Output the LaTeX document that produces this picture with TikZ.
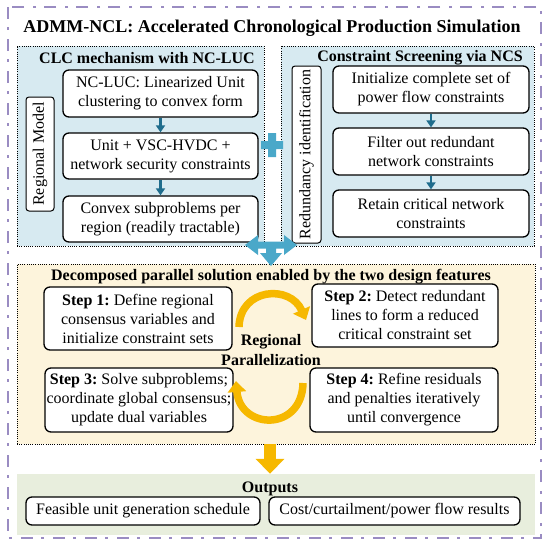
\documentclass[tikz,border=0pt]{standalone}
\usepackage{fontspec}
\setmainfont{Liberation Serif}
\usetikzlibrary{arrows.meta}
\definecolor{lav}{RGB}{154,140,194}
\definecolor{bluefill}{RGB}{215,234,241}
\definecolor{creamfill}{RGB}{253,244,220}
\definecolor{greenfill}{RGB}{232,238,221}
\definecolor{tealarrow}{RGB}{31,109,141}
\definecolor{lightbluearrow}{RGB}{74,168,201}
\definecolor{yellowarrow}{RGB}{246,184,0}
\frenchspacing
\begin{document}
\begin{tikzpicture}[x=1pt,y=-1pt,
  panel/.style={draw=black, line width=0.9pt, dash pattern=on 0.9pt off 1.3pt, inner sep=0pt},
  box/.style={draw=black, line width=1.3pt, rounded corners=6pt, fill=white, align=center, inner sep=0pt,
    font=\fontsize{16}{19}\selectfont},
  vbox/.style={draw=black, line width=1pt, rounded corners=3pt, fill=white, inner sep=0pt,
    font=\fontsize{16}{19}\selectfont, rotate=90},
  ptitle/.style={font=\fontsize{16}{19}\selectfont\bfseries, inner sep=0pt},
  tarrow/.style={tealarrow, line width=2.6pt, -{Triangle[width=9pt,length=7pt]}},
  curvearrow/.style={yellowarrow, line width=7.5pt, -{Triangle[width=18pt,length=11pt]}}
]
\useasboundingbox (0,0) rectangle (550,541);
\fill[white] (0,0) rectangle (550,541);
% outer frame
\draw[lav, line width=2.4pt, dash pattern=on 12pt off 8pt on 3pt off 9pt] (8,7) rectangle (541,538);
\node[font=\fontsize{18}{21}\selectfont\bfseries, inner sep=0pt] (title) at (272,28) {ADMM-NCL: Accelerated Chronological Production Simulation};

% upper panels
\node[panel, fill=bluefill, minimum width=247pt, minimum height=200pt] (lp) at (140.5,146) {};
\node[panel, fill=bluefill, minimum width=253pt, minimum height=200pt] (rp) at (407.5,146) {};
\node[ptitle] (lpt) at (147,58) {CLC mechanism with NC-LUC};
\node[ptitle] (rpt) at (420,58) {Constraint Screening via NCS};

% left panel contents
\node[vbox, minimum width=114pt, minimum height=28pt] (rm) at (40,154) {Regional Model};
\node[box, minimum width=195pt, minimum height=47pt] (l1) at (160.5,93.5) {NC-LUC: Linearized Unit\\clustering to convex form};
\node[box, minimum width=195pt, minimum height=46pt] (l2) at (160.5,156) {Unit + VSC-HVDC +\\network security constraints};
\node[box, minimum width=195pt, minimum height=46pt] (l3) at (160.5,219) {Convex subproblems per\\region (readily tractable)};
\draw[tarrow] (l1) -- (l2);
\draw[tarrow] (l2) -- (l3);

% right panel contents
\node[vbox, minimum width=177pt, minimum height=29pt] (ri) at (306.5,154.5) {Redundancy identification};
\node[box, minimum width=196pt, minimum height=47pt] (r1) at (431,89.5) {Initialize complete set of\\power flow constraints};
\node[box, minimum width=196pt, minimum height=47pt] (r2) at (431,151.5) {Filter out redundant\\network constraints};
\node[box, minimum width=196pt, minimum height=47pt] (r3) at (431,213.5) {Retain critical network\\constraints};
\draw[tarrow] (r1) -- (r2);
\draw[tarrow] (r2) -- (r3);

% plus sign
\fill[lightbluearrow] (268,133) -- (276,133) -- (276,141) -- (283,141) -- (283,149) -- (276,149) -- (276,157) -- (268,157) -- (268,149) -- (261,149) -- (261,141) -- (268,141) -- cycle;

% yellow panel
\node[panel, fill=creamfill, minimum width=518pt, minimum height=180pt] (yp) at (276,354) {};
% T arrow
\fill[lightbluearrow] (245,245) -- (258,235) -- (258,241.5) -- (284,241.5) -- (284,235) -- (297,245) -- (284,255) -- (284,248.5) -- (276,248.5) -- (276,253) -- (282,253) -- (271,266) -- (260,253) -- (266,253) -- (266,248.5) -- (258,248.5) -- (258,255) -- cycle;

\node[ptitle] (ypt) at (271,277) {Decomposed parallel solution enabled by the two design features};
\node[box, minimum width=188pt, minimum height=63pt] (s1) at (138,318.5) {\textbf{Step 1:} Define regional\\consensus variables and\\initialize constraint sets};
\node[box, minimum width=186pt, minimum height=63pt] (s2) at (405,315.5) {\textbf{Step 2:} Detect redundant\\lines to form a reduced\\critical constraint set};
\node[box, minimum width=188pt, minimum height=64pt] (s3) at (139,400) {\textbf{Step 3:} Solve subproblems;\\coordinate global consensus;\\update dual variables};
\node[box, minimum width=188pt, minimum height=64pt] (s4) at (404,400) {\textbf{Step 4:} Refine residuals\\and penalties iteratively\\until convergence};
\node[ptitle, align=center, font=\fontsize{16}{20}\selectfont\bfseries] (rp2) at (271,350) {Regional\\Parallelization};

\coordinate (a1s) at (239,327);
\coordinate (a1e) at (306,320);
\draw[curvearrow] (a1s) .. controls (240,288) and (290,284) .. (a1e);
\coordinate (a2s) at (303,383);
\coordinate (a2e) at (236,381);
\draw[curvearrow] (a2s) .. controls (302,432) and (240,430) .. (a2e);

% green panel
\node[fill=greenfill, minimum width=518pt, minimum height=61pt, inner sep=0pt] (gp) at (276,504.5) {};
\draw[yellowarrow, line width=12pt, -{Triangle[width=28pt,length=15pt]}] ([xshift=-6pt]yp.south) -- ([xshift=-6pt]gp.north);
\node[ptitle] (gpt) at (270,489) {Outputs};
\node[box, minimum width=234pt, minimum height=28pt] (o1) at (143,511) {Feasible unit generation schedule};
\node[box, minimum width=251pt, minimum height=28pt] (o2) at (394.5,511) {Cost/curtailment/power flow results};
\end{tikzpicture}
\end{document}
